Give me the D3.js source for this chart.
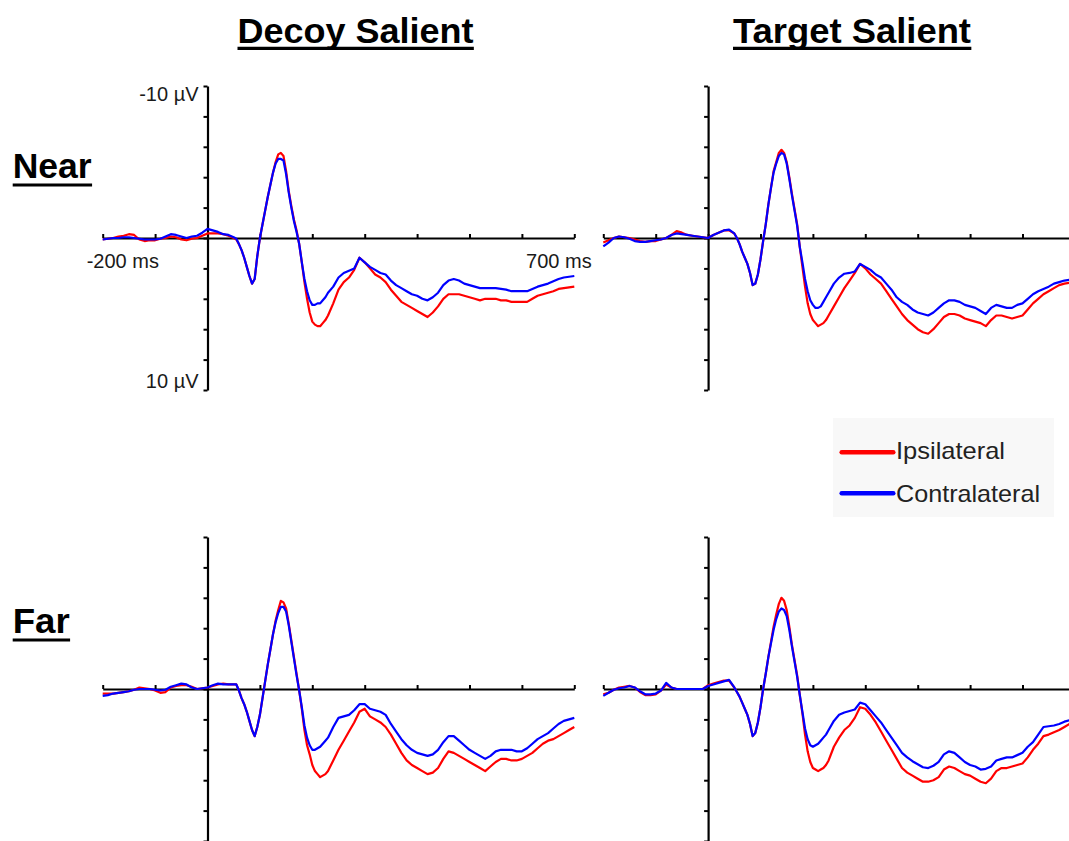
<!DOCTYPE html>
<html><head><meta charset="utf-8">
<script src="https://cdn.jsdelivr.net/npm/d3@7"></script>
<style>body{margin:0;background:#fff;} svg{display:block;}</style>
</head><body>
<svg id="c" width="1069" height="841"></svg>
<script>
// ---------- DATA ----------
const times = [-200,-190,-180,-170,-160,-150,-140,-130,-120,-110,-100,-90,-80,-70,-60,-50,-40,-30,-20,-10,0,10,20,30,40,
 50,55,60,65,70,75,80,85,90,95,100,105,110,115,120,125,130,135,140,145,150,155,160,165,170,175,180,185,190,195,200,205,210,215,220,225,230,
 240,250,260,270,280,290,300,310,320,330,340,350,360,370,380,390,400,410,420,430,440,450,460,470,480,490,500,510,520,530,540,550,560,570,580,590,600,610,620,630,640,650,660,670,680,690,700];
const columns = ["Decoy Salient", "Target Salient"];
const rows = ["Near", "Far"];
const seriesNames = ["Ipsilateral", "Contralateral"];
const timeTicks = [-200,-100,0,100,200,300,400,500,600,700];
const voltTicks = [-10,-8,-6,-4,-2,0,2,4,6,8,10];
const timeTickLabels = ["-200 ms", "700 ms"];
const voltTickLabels = ["-10 µV", "10 µV"];

// values in µV (negative plotted upward)
const decoyNearIpsi = [0.1,0.05,0,-0.1,-0.15,-0.25,-0.2,0.1,0.2,0.15,0.15,0.05,0,-0.1,-0.05,0.1,0.15,0.05,0,-0.15,-0.3,-0.3,-0.3,-0.25,-0.15,
 0,0.1,0.4,0.8,1.3,1.9,2.5,3.0,2.7,1.2,0,-0.9,-1.8,-2.7,-3.5,-4.3,-5.0,-5.5,-5.6,-5.4,-4.4,-3.1,-2.1,-1.2,-0.5,0.4,1.6,2.9,4.0,4.9,5.5,5.7,5.8,5.8,5.6,5.4,5.1,
 4.3,3.4,2.9,2.6,2.1,1.3,1.6,2.0,2.4,2.6,2.9,3.4,3.8,4.2,4.4,4.6,4.8,5.0,5.2,4.9,4.5,4.0,3.7,3.7,3.7,3.8,3.9,4.0,4.1,4.0,4.0,4.0,4.1,4.1,4.2,4.2,4.2,4.2,4.0,3.8,3.7,3.6,3.5,3.35,3.3,3.25,3.2];
const decoyNearContra = [0.1,0.05,0,0,-0.05,-0.05,0,0.05,0.1,0.1,0.1,0.05,-0.1,-0.25,-0.2,-0.1,0,-0.1,-0.15,-0.35,-0.6,-0.5,-0.4,-0.25,-0.2,
 -0.05,0.05,0.4,0.8,1.3,1.9,2.5,3.0,2.7,1.2,0,-0.9,-1.8,-2.7,-3.5,-4.3,-4.9,-5.2,-5.2,-5.1,-4.2,-3.0,-2.0,-1.1,-0.4,0.4,1.6,2.7,3.5,4.1,4.4,4.4,4.3,4.3,4.1,3.9,3.6,
 3.2,2.6,2.3,2.15,2.0,1.3,1.6,1.9,2.1,2.3,2.4,2.8,3.1,3.3,3.5,3.7,3.8,4.0,4.1,3.9,3.6,3.1,2.8,2.7,2.8,3.0,3.1,3.2,3.3,3.3,3.3,3.3,3.35,3.4,3.5,3.5,3.5,3.5,3.35,3.2,3.1,3.0,2.85,2.7,2.6,2.55,2.5];
const targetNearIpsi = [0.3,0.15,0,-0.1,-0.05,0,0.1,0.2,0.25,0.2,0.2,0.1,0,-0.2,-0.45,-0.35,-0.2,-0.15,-0.1,-0.05,0,-0.2,-0.35,-0.5,-0.5,
 -0.3,0,0.4,0.9,1.3,1.7,2.3,3.1,3.0,2.4,1.4,0.2,-0.9,-2.2,-3.3,-4.4,-5.0,-5.6,-5.8,-5.6,-5.0,-4.0,-2.9,-1.9,-0.9,0.6,1.9,3.2,4.3,5.0,5.4,5.6,5.8,5.7,5.6,5.4,5.1,
 4.5,3.9,3.3,2.8,2.3,1.7,2.0,2.4,2.7,3.0,3.5,4.0,4.5,5.0,5.4,5.7,6.0,6.2,6.3,6.0,5.6,5.2,5.0,5.0,5.1,5.3,5.4,5.5,5.6,5.8,5.4,5.1,5.1,5.2,5.3,5.2,5.1,4.7,4.3,4.0,3.7,3.5,3.3,3.1,3.0,2.95,2.9];
const targetNearContra = [0.55,0.3,0,-0.1,-0.05,0.05,0.2,0.25,0.25,0.2,0.15,0.1,0,-0.2,-0.3,-0.25,-0.2,-0.15,-0.1,-0.05,0,-0.2,-0.35,-0.5,-0.55,
 -0.3,0,0.4,0.9,1.3,1.7,2.3,3.1,3.0,2.4,1.4,0.2,-0.9,-2.2,-3.3,-4.3,-4.9,-5.4,-5.6,-5.5,-4.9,-3.9,-2.8,-1.8,-0.8,0.6,1.6,2.7,3.5,4.1,4.4,4.6,4.6,4.5,4.2,3.9,3.6,
 3.0,2.6,2.35,2.3,2.2,1.7,1.9,2.1,2.4,2.6,3.0,3.4,3.9,4.2,4.4,4.7,4.9,5.0,5.1,4.9,4.6,4.3,4.1,4.1,4.2,4.4,4.5,4.6,4.8,5.0,4.6,4.4,4.5,4.6,4.6,4.4,4.3,4.0,3.7,3.5,3.35,3.2,3.0,2.9,2.8,2.75,2.7];
const decoyFarIpsi = [0.3,0.3,0.3,0.25,0.2,0.15,0.05,-0.1,-0.05,0,0.1,0.25,0.2,-0.1,-0.2,-0.25,-0.25,-0.15,0,-0.05,-0.1,-0.2,-0.3,-0.35,-0.3,
 -0.3,-0.3,0.1,0.6,1.0,1.5,2.1,2.7,3.1,2.5,1.7,0.6,-0.5,-1.6,-2.6,-3.6,-4.5,-5.2,-5.8,-5.7,-5.3,-4.3,-3.2,-2.1,-1.0,0.1,1.3,2.7,3.7,4.3,5.0,5.4,5.6,5.8,5.7,5.6,5.4,
 4.7,4.0,3.4,2.8,2.2,1.5,1.3,1.8,2.0,2.2,2.5,3.0,3.6,4.2,4.7,5.0,5.2,5.4,5.6,5.5,5.2,4.6,4.1,4.2,4.4,4.6,4.8,5.0,5.2,5.4,5.1,4.8,4.6,4.6,4.7,4.7,4.6,4.4,4.2,3.9,3.6,3.4,3.3,3.1,2.9,2.7,2.5];
const decoyFarContra = [0.45,0.4,0.3,0.25,0.2,0.15,0.05,0,0,0,0.05,0.1,0.05,-0.15,-0.25,-0.35,-0.3,-0.1,0,-0.05,-0.1,-0.25,-0.35,-0.3,-0.3,
 -0.3,-0.3,0.1,0.6,1.0,1.5,2.1,2.7,3.1,2.5,1.7,0.6,-0.5,-1.6,-2.6,-3.6,-4.4,-5.0,-5.4,-5.4,-5.1,-4.2,-3.1,-2.0,-0.9,0.1,1.2,2.4,3.2,3.7,4.0,4.0,3.9,3.8,3.6,3.4,3.2,
 2.5,1.9,1.8,1.7,1.4,1.0,1.0,1.3,1.4,1.5,1.7,2.3,2.8,3.3,3.7,4.0,4.2,4.3,4.4,4.3,4.0,3.5,3.1,3.1,3.4,3.7,4.0,4.2,4.4,4.6,4.4,4.1,4.0,4.0,4.0,4.1,4.1,3.9,3.6,3.3,3.1,2.9,2.6,2.3,2.1,2.0,1.9];
const targetFarIpsi = [0.35,0.25,0.05,-0.1,-0.15,-0.2,-0.1,0.2,0.4,0.4,0.35,0.1,-0.3,-0.1,0,0,0,0,0,0,-0.25,-0.35,-0.45,-0.55,-0.55,
 -0.1,0.2,0.5,0.9,1.3,1.7,2.3,3.1,2.9,2.2,1.2,0,-1.0,-2.1,-3.1,-4.1,-4.9,-5.6,-6.0,-5.8,-5.2,-4.1,-2.9,-1.9,-0.9,0.4,1.6,3.0,4.1,4.8,5.2,5.3,5.4,5.3,5.2,5.0,4.7,
 3.8,3.2,2.7,2.4,1.9,1.2,1.3,1.7,2.2,2.8,3.4,4.0,4.6,5.2,5.5,5.7,5.9,6.1,6.1,6.0,5.8,5.3,5.1,5.2,5.4,5.6,5.7,5.9,6.1,6.2,5.9,5.4,5.2,5.2,5.1,5.0,4.9,4.5,4.0,3.6,3.1,3.0,2.85,2.7,2.5,2.3,2.2];
const targetFarContra = [0.45,0.25,0.05,-0.05,-0.1,-0.2,-0.1,0.15,0.35,0.35,0.3,0.1,-0.4,-0.1,0,0,0,0,0,0,-0.2,-0.3,-0.4,-0.5,-0.6,
 -0.1,0.2,0.5,0.9,1.3,1.7,2.3,3.1,2.9,2.2,1.2,0,-1.0,-2.1,-3.0,-3.9,-4.6,-5.1,-5.3,-5.2,-4.8,-3.9,-2.8,-1.8,-0.8,0.4,1.5,2.6,3.3,3.7,3.8,3.7,3.6,3.4,3.2,3.0,2.7,
 2.1,1.7,1.55,1.45,1.35,0.9,1.0,1.4,1.8,2.2,2.7,3.2,3.7,4.2,4.5,4.75,4.95,5.15,5.2,5.05,4.8,4.3,4.1,4.2,4.5,4.8,5.0,5.1,5.3,5.25,5.1,4.7,4.6,4.5,4.5,4.35,4.2,3.8,3.5,3.0,2.5,2.45,2.4,2.3,2.15,2.05,2.0];

// ---------- LAYOUT ----------
const colors = ["#ff0000", "#0000ff"];
const panelW = 471.6, panelH = 304;
const panels = [
  {left: 102.7, top: 86,  series: [decoyNearIpsi, decoyNearContra], labels: true},
  {left: 603.3, top: 86,  series: [targetNearIpsi, targetNearContra]},
  {left: 102.7, top: 537, series: [decoyFarIpsi, decoyFarContra]},
  {left: 603.3, top: 537, series: [targetFarIpsi, targetFarContra]}
];

const svg = d3.select("#c");
svg.append("rect").attr("width", 1069).attr("height", 841).attr("fill", "#fff");
const FONT = "'Liberation Sans', Arial, Helvetica, sans-serif";

panels.forEach(p => {
  const x = d3.scaleLinear().domain([-200, 700]).range([p.left, p.left + panelW]);
  const y = d3.scaleLinear().domain([-10, 10]).range([p.top, p.top + panelH]);
  const g = svg.append("g");

  const yAx = g.append("g").attr("transform", `translate(${x(0)},0)`)
    .call(d3.axisLeft(y).tickValues(voltTicks).tickSize(4).tickSizeOuter(0).tickFormat(""));
  const xAx = g.append("g").attr("transform", `translate(0,${y(0)})`)
    .call(d3.axisTop(x).tickValues(timeTicks).tickSize(4).tickSizeOuter(0).tickFormat(""));
  [yAx, xAx].forEach(a => {
    a.selectAll("path.domain").attr("stroke", "#000").attr("stroke-width", 2.2);
    a.selectAll(".tick line").attr("stroke", "#000").attr("stroke-width", 2);
    a.selectAll("text").remove();
  });

  const line = d3.line().x((d, i) => x(times[i])).y(d => y(d));
  p.series.forEach((vals, si) => {
    g.append("path").datum(vals)
      .attr("fill", "none").attr("stroke", colors[si]).attr("stroke-width", 2.2)
      .attr("stroke-linejoin", "round").attr("d", line);
  });

  if (p.labels) {
    const lab = (t, xx, yy, anchor) => g.append("text").attr("x", xx).attr("y", yy)
      .attr("text-anchor", anchor).attr("font-family", FONT).attr("font-size", 20)
      .attr("fill", "#1a1a1a").text(t);
    lab(voltTickLabels[0], x(0) - 9, y(-10) + 14.7, "end");
    lab(voltTickLabels[1], x(0) - 9, y(10) - 1.7, "end");
    lab(timeTickLabels[0], x(-200) - 16, y(0) + 29.5, "start");
    lab(timeTickLabels[1], x(700) + 17.4, y(0) + 29.5, "end");
  }
});

// column titles and row labels (underlined)
function underlined(t, xx, yy, anchor, ulY, len) {
  const tx = svg.append("text").attr("x", xx).attr("y", yy).attr("text-anchor", anchor)
    .attr("font-family", FONT).attr("font-weight", "bold").attr("font-size", 35)
    .attr("fill", "#000").attr("textLength", len).attr("lengthAdjust", "spacingAndGlyphs").text(t);
  const bb = tx.node().getBBox();
  svg.append("line").attr("x1", bb.x).attr("x2", bb.x + bb.width)
    .attr("y1", ulY).attr("y2", ulY).attr("stroke", "#000").attr("stroke-width", 3.2);
}
underlined(columns[0], 355.5, 43.3, "middle", 48.4, 236);
underlined(columns[1], 852, 43.3, "middle", 48.4, 238);
underlined(rows[0], 12.7, 178.3, "start", 185, 79);
underlined(rows[1], 12.7, 633, "start", 640, 57);

// legend
const lg = svg.append("g");
lg.append("rect").attr("x", 833).attr("y", 418).attr("width", 221).attr("height", 99).attr("fill", "#f8f8f8");
const legendRows = [{y: 452.3, base: 459.3, w: 109}, {y: 493.3, base: 501.7, w: 144}];
seriesNames.forEach((s, i) => {
  const r = legendRows[i];
  lg.append("line").attr("x1", 841.7).attr("x2", 893.3).attr("y1", r.y).attr("y2", r.y)
    .attr("stroke", colors[i]).attr("stroke-width", 4.5).attr("stroke-linecap", "round");
  lg.append("text").attr("x", 896).attr("y", r.base).attr("font-family", FONT)
    .attr("font-size", 24).attr("fill", "#222")
    .attr("textLength", r.w).attr("lengthAdjust", "spacingAndGlyphs").text(s);
});
</script>
</body></html>
